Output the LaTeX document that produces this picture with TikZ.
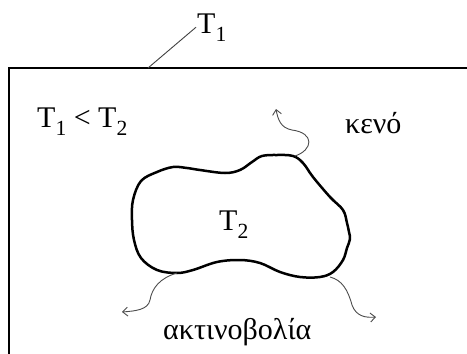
\documentclass[tikz,border=0pt]{standalone}
\usepackage{fontspec}
\setmainfont{Liberation Serif}
\usetikzlibrary{arrows.meta}

\newcommand{\Tlow}[1]{T\raisebox{-0.27em}{\scalebox{0.72}{#1}}}

\begin{document}
\begin{tikzpicture}[
  x=1pt, y=-1pt,
  font=\fontsize{30}{35}\selectfont,
  lbl/.style={inner sep=1pt, anchor=base west},
  wall/.style={line width=1.9pt},
  body/.style={line width=2.5pt, line join=round},
  ray/.style={line width=0.9pt, color=black!70,
              -{Straight Barb[length=5pt, width=9pt]}},
]
\useasboundingbox (0,0) rectangle (467,354);
\draw[wall] (9,68) rectangle (490,380);

\node[lbl] (t1)  at (196,33)  {\Tlow{1}};
\node[lbl] (law) at (36,127)  {\Tlow{1} < \Tlow{2}};
\node[lbl] (vac) at (344,133) {κενό};
\node[lbl] (t2)  at (218,230) {\Tlow{2}};
\node[lbl] (rad) at (162,339) {ακτινοβολία};

\coordinate (rim) at (148,68);
\draw[line width=0.9pt, black!75] (rim) -- (t1.west);

\draw[body] plot[smooth cycle, tension=0.6] coordinates {
  (133,200) (141,181) (157,172) (173,167) (187,168) (200,170) (225,173)
  (240,170) (252,162) (262,156) (277,155) (293,156) (303,163) (313,177)
  (330,197) (343,210) (347,223) (349,232) (350,239) (347,248) (343,260)
  (333,272) (320,277) (300,277) (280,272) (260,263) (240,260) (217,262)
  (193,270) (177,273) (157,270) (141,258) (134,240) (132,220)};

\coordinate (e1) at (295,156);
\coordinate (f1) at (276,109);
\coordinate (e2) at (177,273);
\coordinate (f2) at (122,312);
\coordinate (e3) at (330,277);
\coordinate (f3) at (376,317);

\draw[ray] (e1) .. controls (313,150) and (315,133) .. (292,130)
                .. controls (281,128) and (278,120) .. (f1);
\draw[ray] (e2) .. controls (160,278) and (152,288) .. (150,300)
                .. controls (148,310) and (135,311) .. (f2);
\draw[ray] (e3) .. controls (342,280) and (348,290) .. (352,305)
                .. controls (356,316) and (365,318) .. (f3);
\end{tikzpicture}
\end{document}
